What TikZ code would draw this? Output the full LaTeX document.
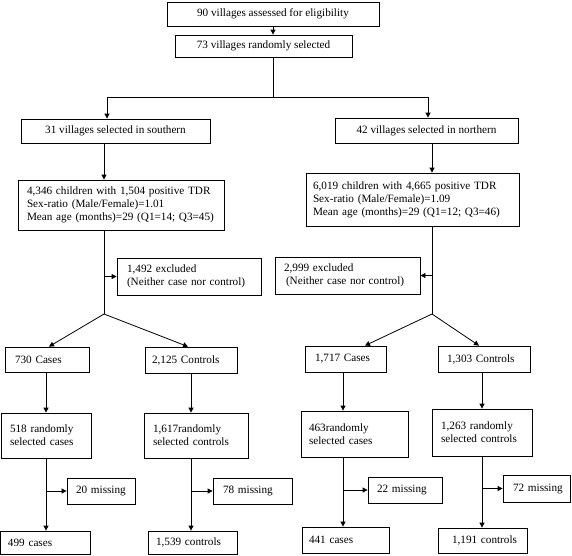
\documentclass[tikz,border=0pt]{standalone}
\usepackage{fontspec}
\setmainfont{Liberation Serif}
\usetikzlibrary{arrows.meta}
\newcommand\Ln[1]{\mbox{#1}}
\begin{document}
\begin{tikzpicture}[x=1pt,y=-1pt,
  box/.style={draw, line width=0.8pt, inner ysep=1pt, font=\fontsize{11.2}{13}\selectfont},
  cbox/.style={box, align=center, inner xsep=0pt},
  lbox/.style={box, align=left},
  arr/.style={line width=0.8pt, -{Triangle[length=5pt,width=5pt]}},
  ln/.style={line width=0.8pt}]
\useasboundingbox (0,0) rectangle (572,555);
% top
\node[cbox, minimum width=212pt, minimum height=24pt] (b1) at (273,14) {90 villages assessed for eligibility};
\node[cbox, minimum width=177pt, minimum height=22pt] (b2) at (263.5,46) {73 villages randomly selected};
\node[cbox, minimum width=189pt, minimum height=24pt] (b3L) at (115.5,131) {31 villages selected in southern};
\node[cbox, minimum width=183pt, minimum height=25pt] (b3R) at (426.5,130.5) {42 villages selected in northern};
% second tier
\node[lbox, inner xsep=9pt, text width=188pt, minimum height=50pt] (b4L) at (121,205)
  {\Ln{4,346 children with 1,504 positive TDR}\\\Ln{Sex-ratio (Male/Female)=1.01}\\\Ln{Mean age (months)=29 (Q1=14; Q3=45)}};
\node[lbox, inner xsep=7pt, text width=199pt, minimum height=53pt] (b4R) at (412.5,199.5)
  {\Ln{6,019 children with 4,665 positive TDR}\\\Ln{Sex-ratio (Male/Female)=1.09}\\\Ln{Mean age (months)=29 (Q1=12; Q3=46)}};
\node[lbox, inner xsep=10pt, text width=124pt, minimum height=37pt] (exL) at (189,276.5)
  {\Ln{1,492 excluded}\\\Ln{(Neither case nor control)}};
\node[lbox, inner xsep=9pt, text width=127pt, minimum height=37pt] (exR) at (347.5,275.5)
  {\Ln{2,999 excluded}\\\Ln{\hspace*{2pt}(Neither case nor control)}};
% cases / controls
\node[lbox, inner xsep=10pt, text width=64pt, minimum height=25pt] (cL1) at (47,359.5) {\Ln{730 Cases}};
\node[lbox, inner xsep=7pt, text width=78pt, minimum height=26pt] (cL2) at (191,360) {\Ln{2,125 Controls}};
\node[lbox, inner xsep=10pt, text width=61pt, minimum height=26pt] (cR1) at (345.5,359) {\Ln{1,717 Cases}};
\node[lbox, inner xsep=9pt, text width=74pt, minimum height=26pt] (cR2) at (484,359) {\Ln{1,303 Controls}};
% randomly selected
\node[lbox, inner xsep=9pt, text width=72pt, minimum height=45pt] (dL1) at (46,435.5) {\Ln{518 randomly}\\\Ln{selected cases}};
\node[lbox, inner xsep=9pt, text width=86pt, minimum height=45pt] (dL2) at (196,435.5) {\Ln{1,617randomly}\\\Ln{selected controls}};
\node[lbox, inner xsep=8pt, text width=91pt, minimum height=46pt] (dR1) at (354.5,434) {\Ln{463randomly}\\\Ln{selected cases}};
\node[lbox, inner xsep=9pt, text width=82pt, minimum height=47pt] (dR2) at (482,432.5) {\Ln{1,263 randomly}\\\Ln{selected controls}};
% missing
\node[lbox, inner xsep=9pt, text width=50pt, minimum height=26pt] (mL1) at (101,491) {\Ln{20 missing}};
\node[lbox, inner xsep=10pt, text width=59pt, minimum height=26pt] (mL2) at (252.5,491) {\Ln{78 missing}};
\node[lbox, inner xsep=9pt, text width=56pt, minimum height=26pt] (mR1) at (405,490) {\Ln{22 missing}};
\node[lbox, inner xsep=10pt, text width=47pt, minimum height=27pt] (mR2) at (536.5,488.5) {\Ln{72 missing}};
% final
\node[lbox, inner xsep=8pt, text width=74pt, minimum height=23pt] (eL1) at (45,542.5) {\Ln{499 cases}};
\node[lbox, inner xsep=8pt, text width=73pt, minimum height=23pt] (eL2) at (192.5,542.5) {\Ln{1,539 controls}};
\node[lbox, inner xsep=7pt, text width=73pt, minimum height=26pt] (eR1) at (345.5,540) {\Ln{441 cases}};
\node[lbox, inner xsep=14pt, text width=61pt, minimum height=25pt] (eR2) at (482.5,540.5) {\Ln{1,191 controls}};
% helper coordinates
\coordinate (s1) at (273,97);
\coordinate (s1L) at (107,97);
\coordinate (s1R) at (428,97);
\coordinate (tL) at (104,314);
\coordinate (tR) at (432,314);
\coordinate (k1) at (46,400);
\coordinate (k2) at (191,400);
\coordinate (k3) at (343,400);
\coordinate (k4) at (482,400);
% connectors
\draw[arr] (b1.south) -- (b1.south |- b2.north);
\draw[ln] (b2.south -| s1) -- (s1);
\draw[arr] (s1) -| (s1L |- b3L.north);
\draw[arr] (s1) -| (s1R |- b3R.north);
\draw[arr] (b3L.south -| tL) -- (b4L.north -| tL);
\draw[ln] (b4L.south -| tL) -- (tL);
\draw[arr] (tL |- exL.west) -- (exL.west);
\draw[arr] (b3R.south -| tR) -- (b4R.north -| tR);
\draw[ln] (b4R.south -| tR) -- (tR);
\draw[arr] (tR |- exR.east) -- (exR.east);
\draw[arr] (tL) -- ([xshift=2pt]cL1.north);
\draw[arr] (tL) -- ([xshift=-3pt]cL2.north);
\draw[arr] (tR) -- ([xshift=19.5pt]cR1.north);
\draw[arr] (tR) -- ([xshift=-5pt]cR2.north);
\draw[arr] (cL1.south -| k1) -- (dL1.north -| k1);
\draw[arr] (dL1.south -| k1) -- (eL1.north -| k1);
\draw[arr] (k1 |- mL1.west) -- (mL1.west);
\draw[arr] (cL2.south -| k2) -- (dL2.north -| k2);
\draw[arr] (dL2.south -| k2) -- (eL2.north -| k2);
\draw[arr] (k2 |- mL2.west) -- (mL2.west);
\draw[arr] (cR1.south -| k3) -- (dR1.north -| k3);
\draw[arr] (dR1.south -| k3) -- (eR1.north -| k3);
\draw[arr] (k3 |- mR1.west) -- (mR1.west);
\draw[arr] (cR2.south -| k4) -- (dR2.north -| k4);
\draw[arr] (dR2.south -| k4) -- (eR2.north -| k4);
\draw[arr] (k4 |- mR2.west) -- (mR2.west);
\end{tikzpicture}
\end{document}
